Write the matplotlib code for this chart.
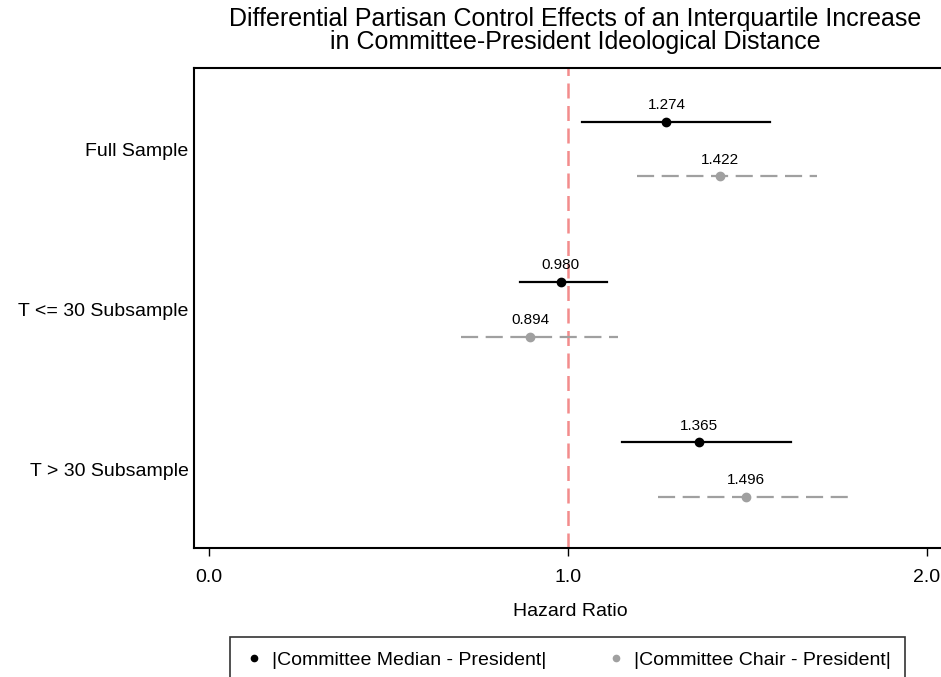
import numpy as np
import matplotlib.pyplot as plt
from matplotlib.lines import Line2D

plt.rcParams['font.family'] = ['Liberation Sans', 'DejaVu Sans']

groups = ["Full Sample", "T <= 30 Subsample", "T > 30 Subsample"]

# hazard ratios with 95% intervals
median_hr = [1.274, 0.980, 1.365]
median_lo = [1.039, 0.866, 1.150]
median_hi = [1.563, 1.109, 1.621]

chair_hr = [1.422, 0.894, 1.496]
chair_lo = [1.192, 0.702, 1.251]
chair_hi = [1.694, 1.139, 1.783]

x_ticks = [0.0, 1.0, 2.0]
x_tick_labels = ["0.0", "1.0", "2.0"]

fig = plt.figure(figsize=(9.41, 6.77), dpi=100)
ax = fig.add_axes([194 / 941, 1 - 548 / 677, (946 - 194) / 941, (548 - 68) / 677])

y = np.arange(len(groups))
off = 0.17

# reference line at HR = 1
ax.axvline(1.0, color='#f38c8c', lw=1.8, dashes=(6, 3), zorder=1)

for i in range(len(groups)):
    ax.plot([median_lo[i], median_hi[i]], [y[i] - off] * 2, color='black', lw=1.6, zorder=2)
    ax.plot(median_hr[i], y[i] - off, 'o', color='black', ms=6, zorder=3)
    ax.text(median_hr[i], y[i] - off - 0.06, f"{median_hr[i]:.3f}", ha='center', va='bottom', fontsize=11)

    ax.plot([chair_lo[i], chair_hi[i]], [y[i] + off] * 2, color='#a0a0a0', lw=1.6,
            dashes=(7.7, 3.4), zorder=2)
    ax.plot(chair_hr[i], y[i] + off, 'o', color='#a0a0a0', ms=6, zorder=3)
    ax.text(chair_hr[i], y[i] + off - 0.06, f"{chair_hr[i]:.3f}", ha='center', va='bottom', fontsize=11)

ax.set_xlim(-0.042, 2.053)
ax.set_ylim(2.49, -0.506)
ax.set_yticks(y)
ax.set_yticklabels(groups, fontsize=14)
ax.tick_params(axis='y', length=0, pad=4)
ax.set_xticks(x_ticks)
ax.set_xticklabels(x_tick_labels, fontsize=14)
ax.tick_params(axis='x', length=6, width=1, pad=9)
ax.set_xlabel("Hazard Ratio", fontsize=14, labelpad=12)
for s in ax.spines.values():
    s.set_linewidth(1.5)

fig.suptitle("Differential Partisan Control Effects of an Interquartile Increase\n"
             "in Committee-President Ideological Distance",
             x=0.6116, y=0.99, fontsize=18, linespacing=0.95)

handles = [
    Line2D([], [], ls='none', marker='o', color='black', ms=4.5),
    Line2D([], [], ls='none', marker='o', color='#a0a0a0', ms=4.5),
]
leg = fig.legend(handles, ["|Committee Median - President|", "|Committee Chair - President|"],
                 loc='upper center', bbox_to_anchor=(567.5 / 941, 1 - 637 / 677), ncol=2,
                 fontsize=14, frameon=True, fancybox=False, edgecolor='black',
                 handletextpad=0.4, columnspacing=3.1, borderpad=0.75, handlelength=1.0,
                 borderaxespad=0)
leg.get_frame().set_linewidth(1.2)

fig.savefig("out.png", dpi=100)
